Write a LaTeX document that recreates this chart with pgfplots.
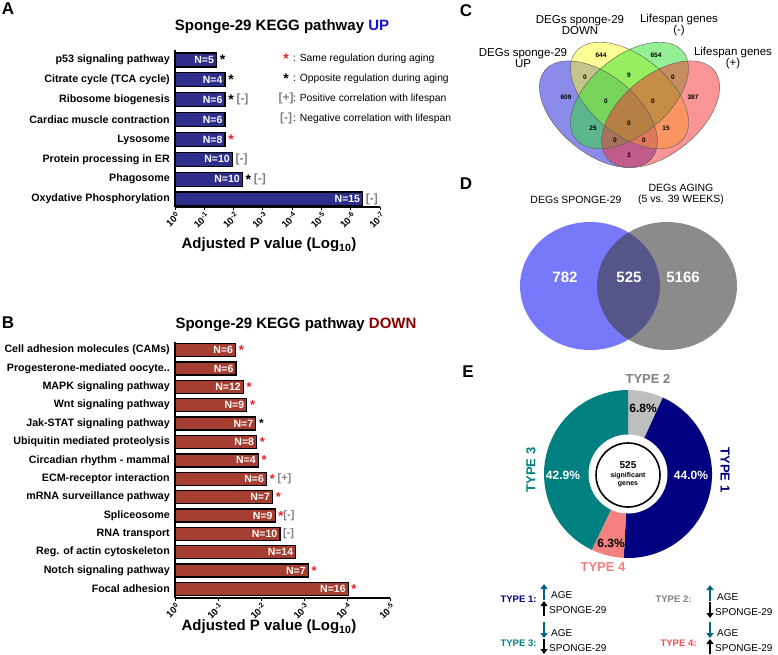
\documentclass[border=0pt]{standalone}
\usepackage{pgfplots}
\pgfplotsset{compat=1.18}
\usepackage{fontspec}
\setmainfont{Liberation Sans}
\usetikzlibrary{arrows.meta}
\definecolor{barA}{RGB}{45,45,140}
\definecolor{barB}{RGB}{165,62,48}
\definecolor{upblue}{RGB}{20,20,220}
\definecolor{downred}{RGB}{140,0,0}
\definecolor{starred}{RGB}{230,30,40}
\definecolor{annog}{RGB}{130,130,130}
\definecolor{vBlue}{RGB}{25,25,215}
\definecolor{vYel}{RGB}{255,255,45}
\definecolor{vGrn}{RGB}{45,225,45}
\definecolor{vRed}{RGB}{245,45,45}
\definecolor{dBlue}{RGB}{120,120,250}
\definecolor{dGray}{RGB}{63,63,63}
\definecolor{tNavy}{RGB}{0,0,128}
\definecolor{tGray}{RGB}{190,190,190}
\definecolor{tSalmon}{RGB}{245,128,128}
\definecolor{tTeal}{RGB}{0,128,128}
\definecolor{tRed}{RGB}{235,80,80}
\definecolor{arrTeal}{RGB}{0,100,130}
\newcommand{\fs}[1]{\fontsize{#1}{#1}\selectfont}
\newcommand{\tl}[1]{10\raisebox{0.55ex}{\fs{7}#1}}
\newcommand{\RstA}{\textcolor{starred}{\raisebox{-0.4ex}{\fs{14}\bfseries *}}}
\newcommand{\BstA}{\raisebox{-0.4ex}{\fs{14}\bfseries *}}
\newcommand{\NegA}{\textcolor{annog}{\fs{12}\bfseries [-]}}
\newcommand{\RstB}{\textcolor{starred}{\raisebox{-0.4ex}{\fs{13}\bfseries *}}}
\newcommand{\BstB}{\raisebox{-0.4ex}{\fs{12}\bfseries *}}
\newcommand{\NegB}{\textcolor{annog}{\fs{11}\bfseries [-]}}
\newcommand{\PosB}{\textcolor{annog}{\fs{11}\bfseries [+]}}
% pie data (percent)
\def\pOne{44.0}\def\pTwo{6.8}\def\pThree{42.9}\def\pFour{6.3}
\pgfmathsetmacro{\aA}{90}
\pgfmathsetmacro{\aB}{\aA-\pTwo*3.6}
\pgfmathsetmacro{\aC}{\aB-\pOne*3.6}
\pgfmathsetmacro{\aD}{\aC-\pFour*3.6}
\pgfmathsetmacro{\aE}{\aD-\pThree*3.6}
\begin{document}
\begin{tikzpicture}[x=1pt,y=1pt]
\fill[white] (0,0) rectangle (778,-654);

% ---------------- Panel A ----------------
\begin{axis}[
  at={(175pt,-207pt)}, anchor=south west, scale only axis,
  width=205pt, height=157pt,
  xmin=0, xmax=7, ymin=-0.4, ymax=7.5,
  axis x line*=bottom, axis y line*=left,
  axis line style={line width=1.6pt,-},
  xtick={0,...,7},
  xticklabels={\tl{0},\tl{-1},\tl{-2},\tl{-3},\tl{-4},\tl{-5},\tl{-6},\tl{-7}},
  xticklabel style={rotate=45, anchor=north east, font=\bfseries\fs{9.5}, inner sep=1pt},
  ytick={0,...,7},
  yticklabels={Oxydative Phosphorylation, Phagosome, Protein processing in ER, Lysosome, Cardiac muscle contraction, Ribosome biogenesis, Citrate cycle (TCA cycle), p53 signaling pathway},
  yticklabel style={font=\bfseries\fs{10.7}, inner sep=2pt},
  ytick style={draw=none},
  xtick style={line width=0.8pt, black},
  tick align=outside, major tick length=3pt,
  clip=false,
]
\addplot[xbar, bar shift=0pt, bar width=14pt, fill=barA, draw=black, line width=1.3pt,
  point meta=explicit symbolic, nodes near coords,
  nodes near coords style={anchor=east, text=white, font=\bfseries\fs{10.5}, inner sep=2pt}]
coordinates {
(6.41,0) [N=15]
(2.30,1) [N=10]
(1.96,2) [N=10]
(1.71,3) [N=8]
(1.71,4) [N=6]
(1.71,5) [N=6]
(1.71,6) [N=4]
(1.42,7) [N=5]
};
\addplot[draw=none, point meta=explicit symbolic, nodes near coords,
  nodes near coords style={anchor=west, text=black, inner sep=2pt, xshift=1pt}]
coordinates {
(6.41,0) [\NegA]
(2.30,1) [\BstA\ \NegA]
(1.96,2) [\NegA]
(1.71,3) [\RstA]
(1.71,5) [\BstA\ \NegA]
(1.71,6) [\BstA]
(1.42,7) [\BstA]
};
\end{axis}

% ---------------- Panel B ----------------
\begin{axis}[
  at={(175pt,-598pt)}, anchor=south west, scale only axis,
  width=215pt, height=256pt,
  xmin=0, xmax=5, ymin=-0.49, ymax=13.44,
  axis x line*=bottom, axis y line*=left,
  axis line style={line width=1.6pt,-},
  xtick={0,...,5},
  xticklabels={\tl{0},\tl{-1},\tl{-2},\tl{-3},\tl{-4},\tl{-5}},
  xticklabel style={rotate=45, anchor=north east, font=\bfseries\fs{9.5}, inner sep=1pt},
  ytick={0,...,13},
  yticklabels={Focal adhesion, Notch signaling pathway, Reg. of actin cytoskeleton, RNA transport, Spliceosome, mRNA surveillance pathway, ECM-receptor interaction, Circadian rhythm - mammal, Ubiquitin mediated proteolysis, Jak-STAT signaling pathway, Wnt signaling pathway, MAPK signaling pathway, Progesterone-mediated oocyte.., Cell adhesion molecules (CAMs)},
  yticklabel style={font=\bfseries\fs{10.7}, inner sep=2pt},
  ytick style={draw=none},
  xtick style={line width=0.8pt, black},
  tick align=outside, major tick length=3pt,
  clip=false,
]
\addplot[xbar, bar shift=0pt, bar width=13pt, fill=barB, draw=black, line width=1.3pt,
  point meta=explicit symbolic, nodes near coords,
  nodes near coords style={anchor=east, text=white, font=\bfseries\fs{10.5}, inner sep=2pt}]
coordinates {
(4.03,0) [N=16]
(3.10,1) [N=7]
(2.81,2) [N=14]
(2.44,3) [N=10]
(2.33,4) [N=9]
(2.27,5) [N=7]
(2.13,6) [N=6]
(1.94,7) [N=4]
(1.90,8) [N=8]
(1.88,9) [N=7]
(1.67,10) [N=9]
(1.59,11) [N=12]
(1.42,12) [N=6]
(1.41,13) [N=6]
};
\addplot[draw=none, point meta=explicit symbolic, nodes near coords,
  nodes near coords style={anchor=west, text=black, inner sep=2pt, xshift=1pt}]
coordinates {
(4.03,0) [\RstB]
(3.10,1) [\RstB]
(2.44,3) [\NegB]
(2.33,4) [\RstB\NegB]
(2.27,5) [\RstB]
(2.13,6) [\RstB\ \PosB]
(1.94,7) [\RstB]
(1.90,8) [\RstB]
(1.88,9) [\BstB]
(1.67,10) [\RstB]
(1.59,11) [\RstB]
(1.41,13) [\RstB]
};
\end{axis}

% ---------------- Panels C, D, E (overlay axis in pixel units) ----------------
\begin{axis}[
  at={(0pt,-654pt)}, anchor=south west, scale only axis,
  width=778pt, height=654pt,
  xmin=0, xmax=778, ymin=-654, ymax=0, hide axis, clip=false]
% C: four-set Venn
\fill[vBlue, fill opacity=.5, rotate around={-39.3:(axis cs:598.4,-114.2)}] (axis cs:598.4,-114.2) ellipse [x radius=69.2pt, y radius=39.2pt];
\fill[vYel, fill opacity=.5, rotate around={-39.3:(axis cs:629.5,-95.5)}] (axis cs:629.5,-95.5) ellipse [x radius=69.2pt, y radius=39.2pt];
\fill[vGrn, fill opacity=.5, rotate around={39.3:(axis cs:629.5,-95.5)}] (axis cs:629.5,-95.5) ellipse [x radius=69.2pt, y radius=39.2pt];
\fill[vRed, fill opacity=.5, rotate around={39.3:(axis cs:660.6,-114.2)}] (axis cs:660.6,-114.2) ellipse [x radius=69.2pt, y radius=39.2pt];
\draw[black!65, line width=0.4pt, rotate around={-39.3:(axis cs:598.4,-114.2)}] (axis cs:598.4,-114.2) ellipse [x radius=69.2pt, y radius=39.2pt];
\draw[black!65, line width=0.4pt, rotate around={-39.3:(axis cs:629.5,-95.5)}] (axis cs:629.5,-95.5) ellipse [x radius=69.2pt, y radius=39.2pt];
\draw[black!65, line width=0.4pt, rotate around={39.3:(axis cs:629.5,-95.5)}] (axis cs:629.5,-95.5) ellipse [x radius=69.2pt, y radius=39.2pt];
\draw[black!65, line width=0.4pt, rotate around={39.3:(axis cs:660.6,-114.2)}] (axis cs:660.6,-114.2) ellipse [x radius=69.2pt, y radius=39.2pt];
% D: two-set Venn
\fill[dBlue] (axis cs:590,-286) ellipse [x radius=70pt, y radius=64pt];
\fill[dGray, fill opacity=0.6] (axis cs:667,-286) ellipse [x radius=70pt, y radius=64pt];
% E: donut
\fill[tGray] (axis cs:628,-474) -- ++(\aA:84pt) arc[start angle=\aA, end angle=\aB, radius=84pt] -- cycle;
\fill[tNavy] (axis cs:628,-474) -- ++(\aB:84pt) arc[start angle=\aB, end angle=\aC, radius=84pt] -- cycle;
\fill[tSalmon] (axis cs:628,-474) -- ++(\aC:84pt) arc[start angle=\aC, end angle=\aD, radius=84pt] -- cycle;
\fill[tTeal] (axis cs:628,-474) -- ++(\aD:84pt) arc[start angle=\aD, end angle=\aE, radius=84pt] -- cycle;
\fill[white] (axis cs:628,-474) circle[radius=39.5pt];
\draw[black, line width=1.6pt] (axis cs:628,-475) circle[radius=32pt];
% E legend arrows
\draw[arrTeal, line width=2.4pt, -{Triangle[width=7pt,length=5pt]}] (axis cs:544,-600) -- (axis cs:544,-584);
\draw[black, line width=2.4pt, -{Triangle[width=7pt,length=5pt]}] (axis cs:544,-616) -- (axis cs:544,-601);
\draw[arrTeal, line width=2.4pt, -{Triangle[width=7pt,length=5pt]}] (axis cs:710,-601) -- (axis cs:710,-585);
\draw[black, line width=2.4pt, -{Triangle[width=7pt,length=5pt]}] (axis cs:710,-602) -- (axis cs:710,-618);
\draw[arrTeal, line width=2.4pt, -{Triangle[width=7pt,length=5pt]}] (axis cs:544,-622) -- (axis cs:544,-638);
\draw[black, line width=2.4pt, -{Triangle[width=7pt,length=5pt]}] (axis cs:544,-639) -- (axis cs:544,-654);
\draw[arrTeal, line width=2.4pt, -{Triangle[width=7pt,length=5pt]}] (axis cs:710,-622) -- (axis cs:710,-638);
\draw[black, line width=2.4pt, -{Triangle[width=7pt,length=5pt]}] (axis cs:710,-654) -- (axis cs:710,-639);
\end{axis}

% ---------------- Text ----------------
\node[font=\bfseries\fs{17}] at (8,-9) {A};
\node[font=\bfseries\fs{17}] at (8,-323) {B};
\node[font=\bfseries\fs{17}] at (466,-11) {C};
\node[font=\bfseries\fs{17}] at (466,-184) {D};
\node[font=\bfseries\fs{17}] at (468,-372) {E};

\node[font=\bfseries\fs{15}] at (282,-27) {Sponge-29 KEGG pathway \textcolor{upblue}{UP}};
\node[font=\bfseries\fs{15}] at (296,-325) {Sponge-29 KEGG pathway \textcolor{downred}{DOWN}};
\node[font=\bfseries\fs{15}] at (269,-245) {Adjusted P value (Log\textsubscript{10})};
\node[font=\bfseries\fs{15}] at (269,-627) {Adjusted P value (Log\textsubscript{10})};

\node[anchor=west, font=\fs{10.3}, inner sep=0pt] at (279,-59) {\makebox[14pt][c]{\RstA}: Same regulation during aging};
\node[anchor=west, font=\fs{10.3}, inner sep=0pt] at (279,-79) {\makebox[14pt][c]{\BstA}: Opposite regulation during aging};
\node[anchor=west, font=\fs{10.3}, inner sep=0pt] at (279,-98) {\makebox[14pt][c]{\textcolor{annog}{\fs{12}\bfseries [+]}}: Positive correlation with lifespan};
\node[anchor=west, font=\fs{10.3}, inner sep=0pt] at (279,-118) {\makebox[14pt][c]{\textcolor{annog}{\fs{12}\bfseries [-]}}: Negative correlation with lifespan};

% C labels
\node[font=\fs{11.5}, align=center, inner sep=0pt] at (523,-58) {DEGs sponge-29\\[-1pt]UP};
\node[font=\fs{11.5}, align=center, inner sep=0pt] at (580,-25) {DEGs sponge-29\\[-1pt]DOWN};
\node[font=\fs{11.5}, align=center, inner sep=0pt] at (679,-25) {Lifespan genes\\[-1pt](-)};
\node[font=\fs{11.5}, align=center, inner sep=0pt] at (733,-58) {Lifespan genes\\[-1pt](+)};
\begin{scope}[font=\bfseries\fs{6.5}]
\node at (601,-55) {644};
\node at (656,-55) {654};
\node at (585,-77) {0};
\node at (629,-75) {9};
\node at (673,-77) {0};
\node at (566,-97) {609};
\node at (606,-101) {0};
\node at (653,-101) {0};
\node at (693,-97) {387};
\node at (629,-123) {0};
\node at (593,-128) {25};
\node at (666,-128) {15};
\node at (615,-140) {0};
\node at (644,-140) {0};
\node at (629,-155) {3};
\end{scope}

% D labels
\node[font=\fs{10.5}] at (576,-200) {DEGs SPONGE-29};
\node[font=\fs{10.5}] at (681,-188) {DEGs AGING};
\node[font=\fs{10.5}] at (681,-200) {(5 vs. 39 WEEKS)};
\node[font=\bfseries\fs{15}, text=white] at (565,-277) {782};
\node[font=\bfseries\fs{15}, text=white] at (629,-277) {525};
\node[font=\bfseries\fs{15}, text=white] at (683,-277) {5166};

% E labels
\node[font=\bfseries\fs{12}, text=black] at (643,-408) {\pTwo\%};
\node[font=\bfseries\fs{12}, text=white] at (691,-475) {\pOne\%};
\node[font=\bfseries\fs{12}, text=white] at (563,-475) {\pThree\%};
\node[font=\bfseries\fs{12}, text=black] at (611,-543) {\pFour\%};
\node[font=\bfseries\fs{10}] at (628,-465) {525};
\node[font=\bfseries\fs{7}] at (628,-476) {significant};
\node[font=\bfseries\fs{7}] at (628,-484) {genes};
\node[font=\bfseries\fs{13}, text=gray] at (648,-379) {TYPE 2};
\node[font=\bfseries\fs{13}, text=tNavy, rotate=-90] at (725,-470) {TYPE 1};
\node[font=\bfseries\fs{13}, text=tTeal, rotate=90] at (531,-470) {TYPE 3};
\node[font=\bfseries\fs{13}, text=tSalmon] at (603,-567) {TYPE 4};

\node[font=\bfseries\fs{9.5}, text=tNavy, anchor=east] at (540,-599) {TYPE 1:};
\node[font=\bfseries\fs{9.5}, text=gray, anchor=east] at (695,-599) {TYPE 2:};
\node[font=\bfseries\fs{9.5}, text=tTeal, anchor=east] at (540,-643) {TYPE 3:};
\node[font=\bfseries\fs{9.5}, text=tRed, anchor=east] at (700,-643) {TYPE 4:};
\node[font=\fs{10}, anchor=west, inner sep=0pt] at (551,-595) {AGE};
\node[font=\fs{10}, anchor=west, inner sep=0pt] at (549,-610) {SPONGE-29};
\node[font=\fs{10}, anchor=west, inner sep=0pt] at (717,-597) {AGE};
\node[font=\fs{10}, anchor=west, inner sep=0pt] at (715,-612) {SPONGE-29};
\node[font=\fs{10}, anchor=west, inner sep=0pt] at (551,-633) {AGE};
\node[font=\fs{10}, anchor=west, inner sep=0pt] at (549,-648) {SPONGE-29};
\node[font=\fs{10}, anchor=west, inner sep=0pt] at (717,-633) {AGE};
\node[font=\fs{10}, anchor=west, inner sep=0pt] at (715,-648) {SPONGE-29};

\pgfresetboundingbox
\path[use as bounding box] (0,0) rectangle (778,-654);
\end{tikzpicture}
\end{document}
